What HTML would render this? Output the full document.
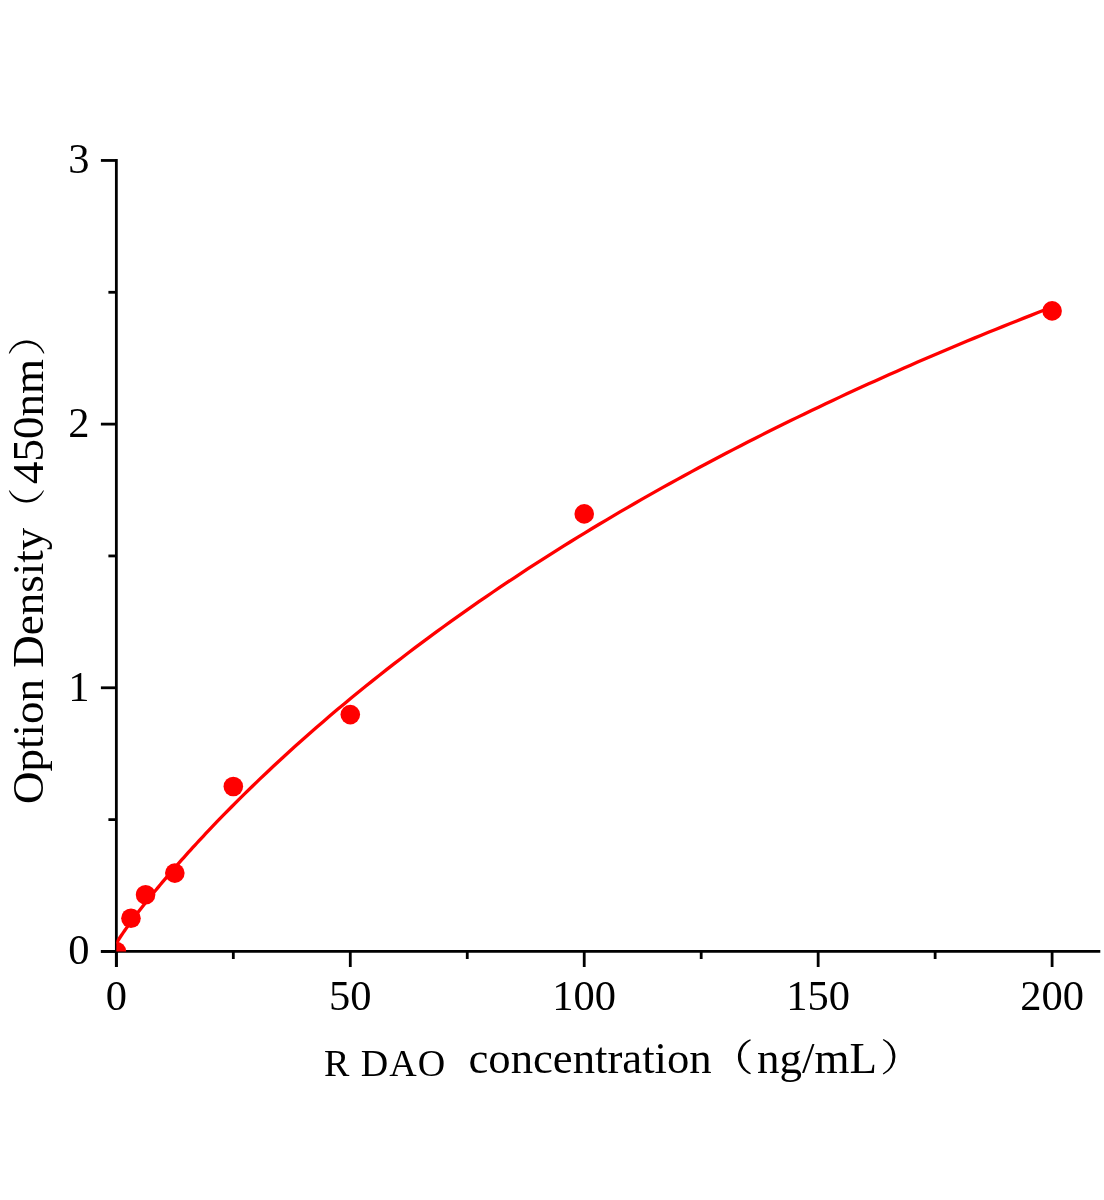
<!DOCTYPE html>
<html><head><meta charset="utf-8"><style>
html,body{margin:0;padding:0;background:#fff;width:1104px;height:1200px;overflow:hidden}
svg{display:block;will-change:transform}
text{font-family:"Liberation Serif",serif;fill:#000}
</style></head><body>
<svg width="1104" height="1200" viewBox="0 0 1104 1200">
<defs><clipPath id="pa"><rect x="116.35" y="100" width="1000" height="851.45"/></clipPath></defs>
<g stroke="#000" stroke-width="2.8" fill="none">
<line x1="116.35" y1="159.05" x2="116.35" y2="967"/>
<line x1="100.9" y1="951.45" x2="1100.3" y2="951.45"/>
<line x1="116.35" y1="951.45" x2="116.35" y2="967" />
<line x1="350.29" y1="951.45" x2="350.29" y2="967" />
<line x1="584.22" y1="951.45" x2="584.22" y2="967" />
<line x1="818.16" y1="951.45" x2="818.16" y2="967" />
<line x1="1052.10" y1="951.45" x2="1052.10" y2="967" />
<line x1="233.32" y1="951.45" x2="233.32" y2="959" />
<line x1="467.26" y1="951.45" x2="467.26" y2="959" />
<line x1="701.19" y1="951.45" x2="701.19" y2="959" />
<line x1="935.13" y1="951.45" x2="935.13" y2="959" />
<line x1="116.35" y1="951.45" x2="100.9" y2="951.45" />
<line x1="116.35" y1="687.78" x2="100.9" y2="687.78" />
<line x1="116.35" y1="424.12" x2="100.9" y2="424.12" />
<line x1="116.35" y1="160.45" x2="100.9" y2="160.45" />
<line x1="116.35" y1="819.62" x2="108.4" y2="819.62" />
<line x1="116.35" y1="555.95" x2="108.4" y2="555.95" />
<line x1="116.35" y1="292.28" x2="108.4" y2="292.28" />
</g>
<g clip-path="url(#pa)">
<polyline points="116.35,943.48 116.84,942.53 117.33,941.68 117.83,940.86 118.32,940.07 118.81,939.28 119.30,938.51 119.80,937.75 120.29,937.00 120.78,936.25 121.27,935.52 121.77,934.78 122.26,934.06 122.75,933.34 123.24,932.62 123.74,931.91 124.23,931.20 124.72,930.49 125.21,929.79 125.71,929.09 125.71,929.09 127.87,926.07 130.03,923.10 132.19,920.17 134.35,917.28 136.50,914.43 138.66,911.61 140.82,908.81 142.98,906.05 145.14,903.31 147.30,900.60 149.46,897.90 151.62,895.23 153.78,892.58 155.94,889.95 158.10,887.34 160.26,884.75 162.42,882.17 164.58,879.61 166.74,877.07 168.90,874.55 171.06,872.04 173.21,869.54 175.37,867.06 177.53,864.60 179.69,862.14 181.85,859.70 184.01,857.28 186.17,854.87 188.33,852.47 190.49,850.08 192.65,847.71 194.81,845.35 196.97,843.00 199.13,840.66 201.29,838.33 203.45,836.02 205.61,833.71 207.77,831.42 209.92,829.13 209.92,829.13 217.00,821.73 224.08,814.43 231.16,807.23 238.23,800.14 245.31,793.14 252.39,786.23 259.46,779.41 266.54,772.68 273.62,766.03 280.70,759.47 287.77,752.98 294.85,746.57 301.93,740.23 309.00,733.97 316.08,727.78 323.16,721.66 330.24,715.60 337.31,709.61 344.39,703.68 351.47,697.82 358.54,692.02 365.62,686.28 372.70,680.60 379.78,674.97 386.85,669.41 393.93,663.90 401.01,658.44 408.08,653.03 415.16,647.68 422.24,642.38 429.32,637.13 436.39,631.93 443.47,626.78 450.55,621.68 457.62,616.62 464.70,611.61 471.78,606.64 478.85,601.72 485.93,596.85 493.01,592.01 500.09,587.22 507.16,582.48 514.24,577.77 521.32,573.10 528.39,568.47 535.47,563.89 542.55,559.34 549.63,554.83 556.70,550.35 563.78,545.92 570.86,541.52 577.93,537.16 585.01,532.83 592.09,528.53 599.17,524.28 606.24,520.05 613.32,515.86 620.40,511.70 627.47,507.58 634.55,503.49 641.63,499.43 648.71,495.40 655.78,491.40 662.86,487.43 669.94,483.49 677.01,479.58 684.09,475.70 691.17,471.86 698.24,468.03 705.32,464.24 712.40,460.48 719.48,456.74 726.55,453.03 733.63,449.35 740.71,445.69 747.78,442.06 754.86,438.46 761.94,434.88 769.02,431.33 776.09,427.80 783.17,424.29 790.25,420.82 797.32,417.36 804.40,413.93 811.48,410.52 818.56,407.14 825.63,403.78 832.71,400.44 839.79,397.13 846.86,393.84 853.94,390.56 861.02,387.32 868.10,384.09 875.17,380.88 882.25,377.70 889.33,374.54 896.40,371.39 903.48,368.27 910.56,365.17 917.64,362.09 924.71,359.03 931.79,355.98 938.87,352.96 945.94,349.96 953.02,346.97 960.10,344.01 967.17,341.06 974.25,338.13 981.33,335.22 988.41,332.33 995.48,329.45 1002.56,326.60 1009.64,323.76 1016.71,320.93 1023.79,318.13 1030.87,315.34 1037.95,312.57 1045.02,309.82 1052.10,307.08" fill="none" stroke="#f00" stroke-width="3.3" stroke-linejoin="round"/>
<g fill="#f00">
<circle cx="116.35" cy="951.45" r="9.8"/>
<circle cx="130.97" cy="918.30" r="9.8"/>
<circle cx="145.59" cy="894.70" r="9.8"/>
<circle cx="174.83" cy="873.10" r="9.8"/>
<circle cx="233.32" cy="786.50" r="9.8"/>
<circle cx="350.29" cy="714.60" r="9.8"/>
<circle cx="584.22" cy="513.90" r="9.8"/>
<circle cx="1052.10" cy="310.90" r="9.8"/>
</g>
</g>
<g font-size="42.5">
<text x="116.35" y="1010" text-anchor="middle">0</text>
<text x="350.29" y="1010" text-anchor="middle">50</text>
<text x="584.22" y="1010" text-anchor="middle">100</text>
<text x="818.16" y="1010" text-anchor="middle">150</text>
<text x="1052.10" y="1010" text-anchor="middle">200</text>
<text x="89.6" y="964.45" text-anchor="end">0</text>
<text x="89.6" y="700.78" text-anchor="end">1</text>
<text x="89.6" y="437.12" text-anchor="end">2</text>
<text x="89.6" y="173.45" text-anchor="end">3</text>
</g>
<text x="324" y="1075.5" font-size="38" letter-spacing="1">R DAO</text>
<text x="468.5" y="1073" font-size="44.7">concentration</text>
<path d="M750.2,1039.3 A18.60,18.60 0 0 0 750.2,1074.3 L750.9,1073.3 A18.70,18.70 0 0 1 750.9,1040.3 Z"/>
<text x="757" y="1073" font-size="45">ng/mL</text>
<path d="M883.5,1039.0 A19.11,19.11 0 0 1 883.5,1074.4 L882.8,1073.4 A19.23,19.23 0 0 0 882.8,1040.0 Z"/>
<g transform="translate(43.4,0) rotate(-90)">
<text x="-803.9" y="0" font-size="45">Option Density</text>
<text x="-484" y="0" font-size="45">450nm</text>
</g>
<path d="M8.8,353.4 A18.69,18.69 0 0 1 44.4,353.4 L43.4,353.4 A18.77,18.77 0 0 0 9.8,353.4 Z"/>
<path d="M8.8,490.6 A18.98,18.98 0 0 0 44.1,490.6 L43.1,490.6 A19.55,19.55 0 0 1 9.8,490.6 Z"/>
</svg>
</body></html>
